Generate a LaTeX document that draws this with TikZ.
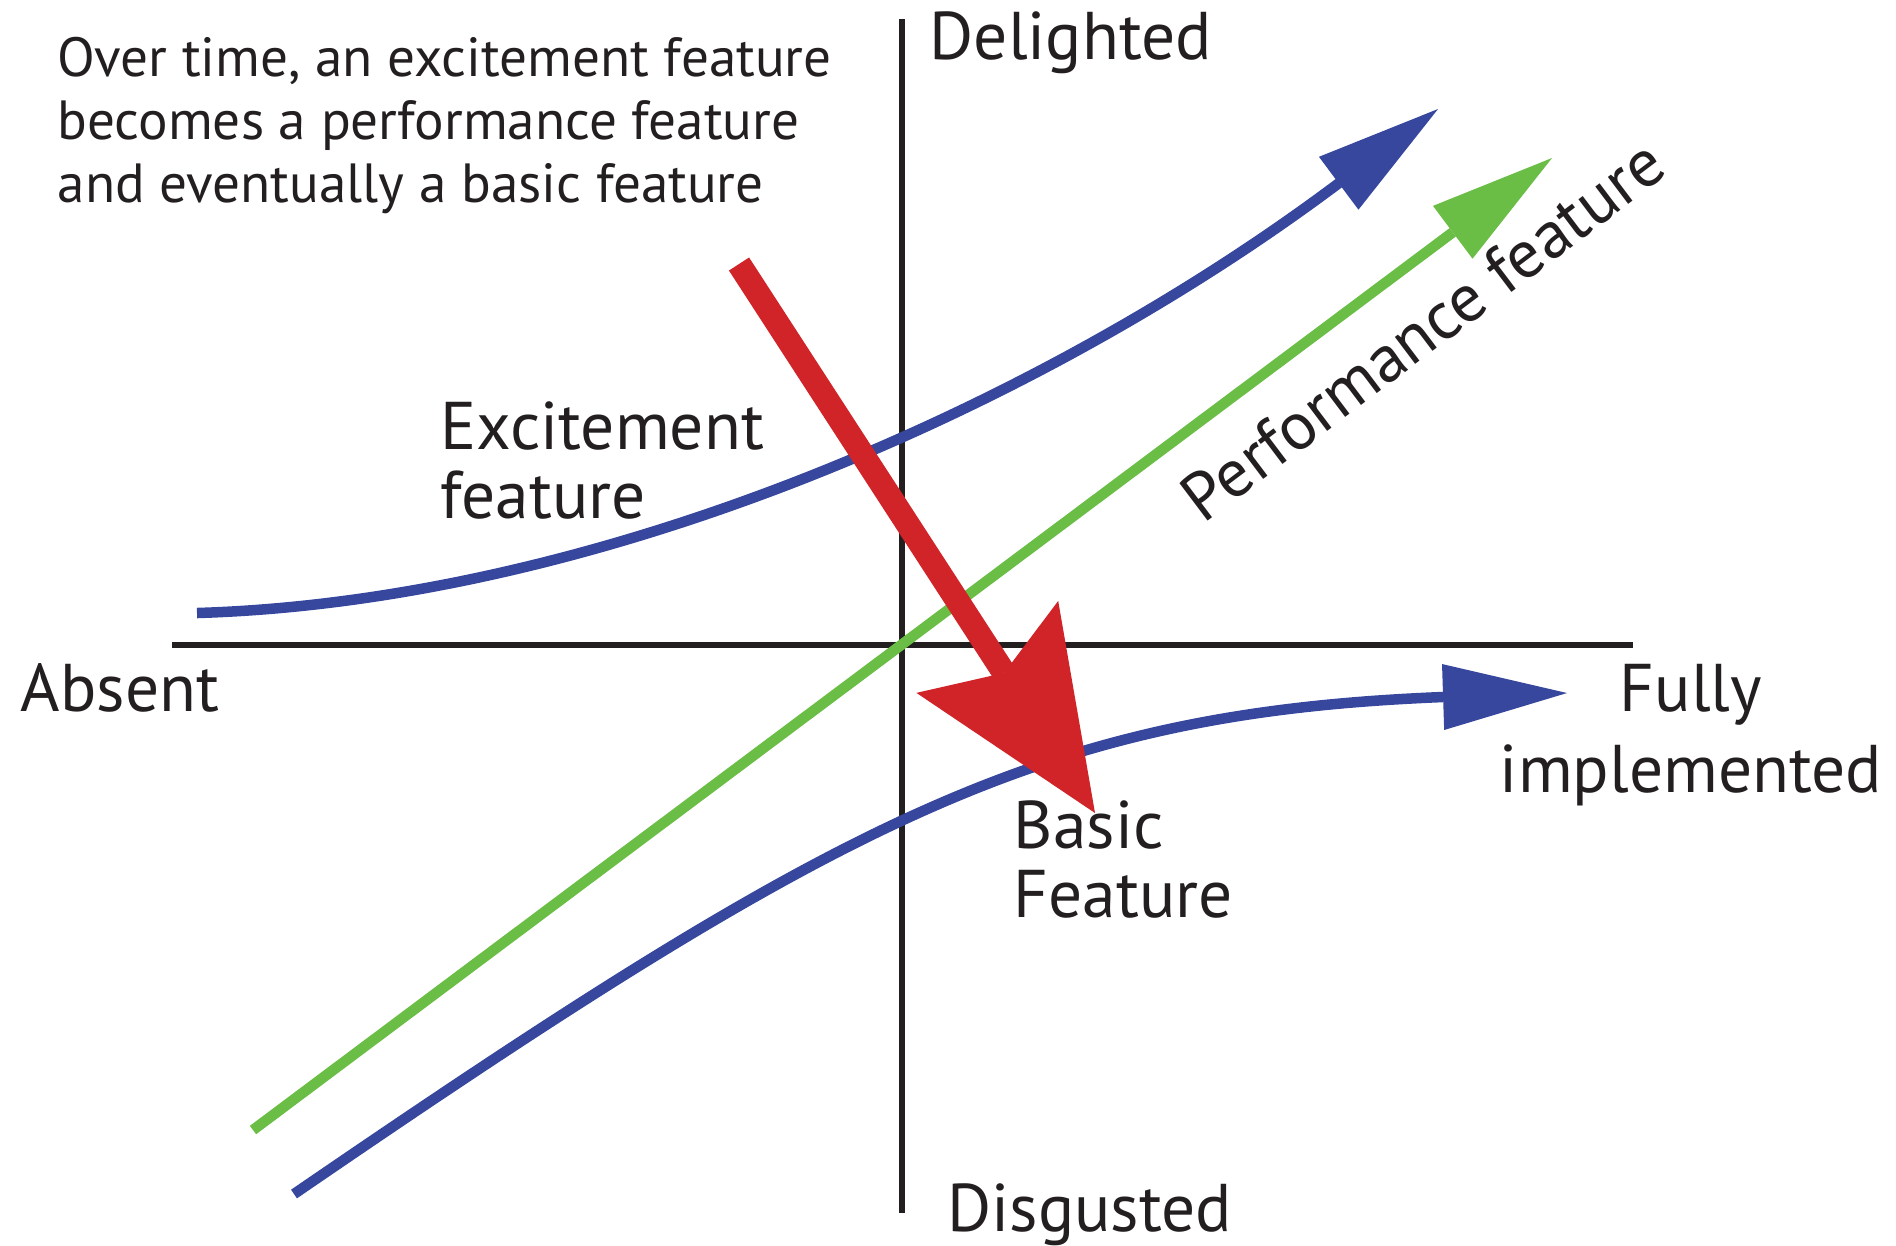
\documentclass[tikz,border=0pt]{standalone}
\usepackage{fontspec}
\setmainfont{PT Sans}
\usepackage{tikz}
\usetikzlibrary{arrows.meta}

\definecolor{curveblue}{RGB}{54,71,157}
\definecolor{perfgreen}{RGB}{106,189,69}
\definecolor{shiftred}{RGB}{209,36,40}
\definecolor{inkblack}{RGB}{35,31,32}

\begin{document}
\begin{tikzpicture}[x=0.1mm, y=-0.1mm,
        axisline/.style={draw=inkblack, line width=0.55mm},
        axistext/.style={text=inkblack, inner sep=0pt, font=\fontsize{19.2pt}{19.4pt}\selectfont},
        curve/.style={line width=1.05mm, -{Triangle[length=12.4mm, width=6.6mm, line width=0pt]}}]
        \useasboundingbox (0,0) rectangle (1896,1245);
        \coordinate (west) at (172,645);
        \coordinate (east) at (1633,645);
        \coordinate (north) at (902,19);
        \coordinate (south) at (902,1213);
        \draw[axisline] (west) -- (east);
        \draw[axisline] (north) -- (south);

        \node[axistext, anchor=base west] (delighted) at (929,59) {Delighted};
        \node[axistext, anchor=base west] (disgusted) at (947,1231) {Disgusted};
        \node[axistext, anchor=base west] (absent) at (20,711) {Absent};
        \node[axistext, anchor=base, align=center, font=\fontsize{19.2pt}{23pt}\selectfont] (fully) at (1691,792) {Fully\\implemented};
        \node[axistext, anchor=base west, align=left] (excitement) at (440,518) {Excitement\\feature};
        \node[axistext, anchor=base west, align=left] (basic) at (1013,917) {Basic\\Feature};
        \node[axistext, anchor=base west, rotate=37] (performance) at (1203,525) {Performance feature};
        \node[axistext, anchor=base west, align=left, font=\fontsize{15.7pt}{17.9pt}\selectfont] (note) at (57,202)
            {Over time, an excitement feature\\becomes a performance feature\\and eventually a basic feature};

        \coordinate (excitestart) at (197,613);
        \coordinate (excitetip) at (1438,109);
        \coordinate (basicstart) at (294,1194);
        \coordinate (basictip) at (1567,693);
        \coordinate (perfstart) at (253,1130);
        \coordinate (perftip) at (1552,158);
        \coordinate (shiftstart) at (739,264);
        \coordinate (shifttip) at (1095,813);

        \draw[curve, curveblue] (excitestart) .. controls (597,601) and (1039,408) .. (1339,183) -- (excitetip);
        \draw[curve, curveblue] (basicstart) .. controls (844,817) and (1043,713) .. (1443,697) -- (basictip);
        \draw[curve, perfgreen] (perfstart) -- (perftip);
        \draw[shiftred, line width=2.4mm, -{Stealth[length=19.8mm, width=16.9mm, inset=3.1mm, line width=0pt]}] (shiftstart) -- (shifttip);
\end{tikzpicture}
\end{document}
